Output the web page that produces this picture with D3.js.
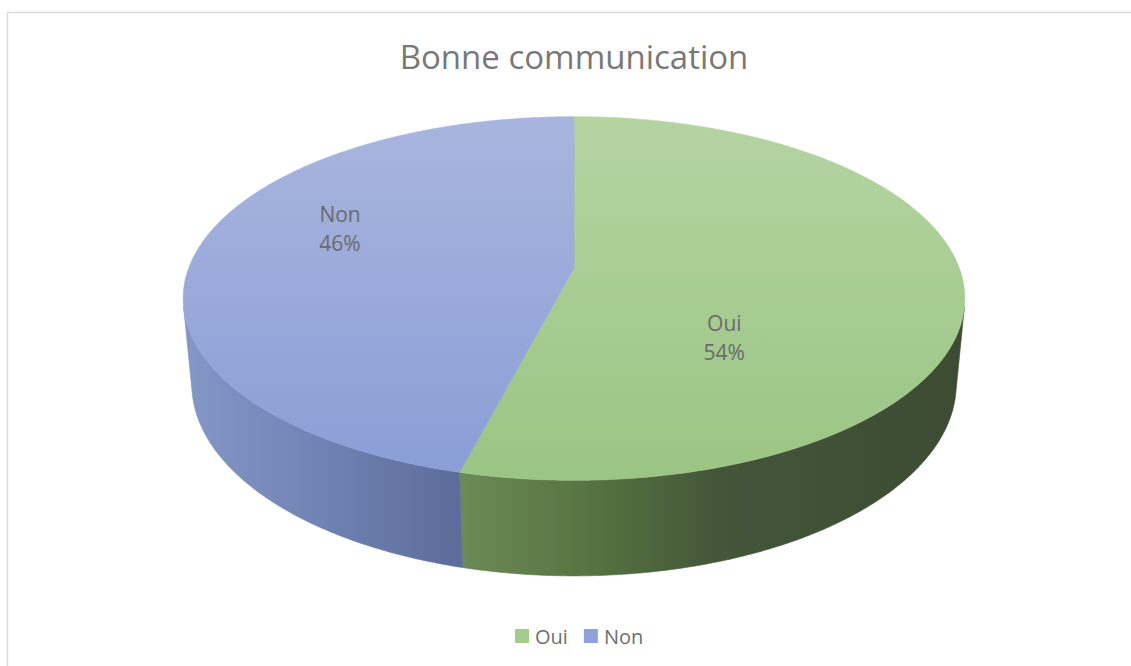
<!DOCTYPE html>
<html>
<head>
<meta charset="utf-8">
<script src="https://cdn.jsdelivr.net/npm/d3@7"></script>
<style>
  html, body { margin: 0; padding: 0; background: #fff; }
  svg { display: block; }
  text { font-family: "Open Sans", "Noto Sans", sans-serif; }
</style>
</head>
<body>
<svg id="chart" width="1131" height="666"></svg>
<script>
// ---- data ----
const title = "Bonne communication";
const categories = ["Oui", "Non"];
const values = [54, 46];
const percentLabels = ["54%", "46%"];

// ---- style / layout ----
const topColors = { Oui: ["#b4d4a2", "#9bc584"], Non: ["#a8b5de", "#8a9dd6"] };
const sideStops = {
  Oui: [[455, "#6c8c57"], [600, "#55713f"], [720, "#43563a"], [967, "#3c4b32"]],
  Non: [[181, "#8597c7"], [300, "#7386b6"], [455, "#5d6d9b"]]
};
const legendColors = { Oui: "#a5cc8c", Non: "#8fa3da" };
const labelAnchors = { Oui: [0.39, 60], Non: [0.62, -26] }; // radial fraction, vertical shift (px)

const W = 1131, H = 666;
const cx = 574, cy = 268;           // projected centre of top face
const alpha = 27.3 * Math.PI / 180; // camera elevation
const dist = 5.3, focal = 2042, depth = 0.252; // in pie-radius units
const sa = Math.sin(alpha), ca = Math.cos(alpha);

const svg = d3.select("#chart");

// border
svg.append("rect").attr("x", 7.5).attr("y", 12.5).attr("width", W).attr("height", H)
  .attr("fill", "none").attr("stroke", "#d9d9d9").attr("stroke-width", 1.5);

// perspective projection of a point on the pie (angle from 12 o'clock clockwise, radius, height)
function proj(theta, r, Y) {
  const X = r * Math.sin(theta), Z = -r * Math.cos(theta);
  const dc = dist - (Z * ca + Y * sa);
  const v = Y * ca - Z * sa;
  return [cx + focal * X / dc, cy - focal * v / dc];
}
function arcPts(a0, a1, r, Y) {
  const n = Math.max(2, Math.ceil(Math.abs(a1 - a0) / 0.01));
  return d3.range(n + 1).map(i => proj(a0 + (a1 - a0) * i / n, r, Y));
}

const pie = d3.pie().sort(null).value(d => d.value).startAngle(0).endAngle(2 * Math.PI);
const arcs = pie(categories.map((c, i) => ({ cat: c, value: values[i], pct: percentLabels[i] })));

const defs = svg.append("defs");
const extX = d3.extent(d3.range(0, 2 * Math.PI, 0.01).map(t => proj(t, 1, 0)[0]));
const extY = [proj(0, 1, 0)[1], proj(Math.PI, 1, 0)[1]];
const xs = d3.scaleLinear().domain(extX).range([0, 1]);

categories.forEach(c => {
  const gt = defs.append("linearGradient").attr("id", "top-" + c)
    .attr("gradientUnits", "userSpaceOnUse")
    .attr("x1", 0).attr("x2", 0).attr("y1", extY[0]).attr("y2", extY[1]);
  gt.append("stop").attr("offset", 0).attr("stop-color", topColors[c][0]);
  gt.append("stop").attr("offset", 1).attr("stop-color", topColors[c][1]);
  const gs = defs.append("linearGradient").attr("id", "side-" + c)
    .attr("gradientUnits", "userSpaceOnUse")
    .attr("x1", extX[0]).attr("x2", extX[1]).attr("y1", 0).attr("y2", 0);
  sideStops[c].forEach(s => gs.append("stop")
    .attr("offset", Math.max(0, Math.min(1, xs(s[0])))).attr("stop-color", s[1]));
});

const line = d3.line();
// visible outer wall: cos(theta) < -1/(dist*cos(alpha))
const vis0 = Math.acos(-1 / (dist * ca)), vis1 = 2 * Math.PI - vis0;

const gSide = svg.append("g");
arcs.forEach(a => {
  const s = Math.max(a.startAngle, vis0), e = Math.min(a.endAngle, vis1);
  if (e <= s) return;
  const pts = arcPts(s, e, 1, 0).concat(arcPts(e, s, 1, -depth));
  gSide.append("path").attr("d", line(pts) + "Z")
    .attr("fill", `url(#side-${a.data.cat})`)
    .attr("stroke", `url(#side-${a.data.cat})`).attr("stroke-width", 0.6);
});

const gTop = svg.append("g");
arcs.forEach(a => {
  const pts = [proj(0, 0, 0)].concat(arcPts(a.startAngle, a.endAngle, 1, 0));
  gTop.append("path").attr("d", line(pts) + "Z")
    .attr("fill", `url(#top-${a.data.cat})`)
    .attr("stroke", `url(#top-${a.data.cat})`).attr("stroke-width", 0.6);
});

// data labels
arcs.forEach(a => {
  const mid = (a.startAngle + a.endAngle) / 2;
  const [rf, dy] = labelAnchors[a.data.cat];
  const p = proj(mid, rf, 0);
  const t = svg.append("text").attr("text-anchor", "middle")
    .attr("font-size", 21).attr("fill", "#6b6b6b");
  t.append("tspan").attr("x", p[0]).attr("y", p[1] + dy - 6).text(a.data.cat);
  t.append("tspan").attr("x", p[0]).attr("y", p[1] + dy + 23).text(a.data.pct);
});

// title
svg.append("text").attr("x", cx).attr("y", 69).attr("text-anchor", "middle")
  .attr("font-size", 33).attr("fill", "#787878").text(title);

// legend
const lg = svg.append("g");
let lx = 515;
categories.forEach(c => {
  lg.append("rect").attr("x", lx).attr("y", 629).attr("width", 14).attr("height", 14)
    .attr("fill", legendColors[c]);
  const tx = lg.append("text").attr("x", lx + 20).attr("y", 644)
    .attr("font-size", 20).attr("fill", "#6e6e6e").text(c);
  lx += 20 + tx.node().getComputedTextLength() + 16;
});
</script>
</body>
</html>
